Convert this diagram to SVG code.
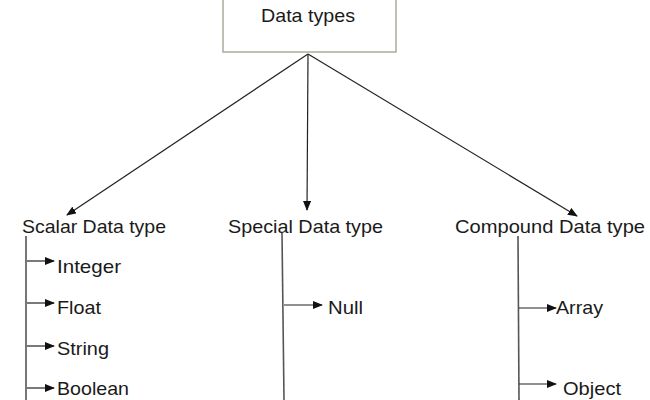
<svg xmlns="http://www.w3.org/2000/svg" width="650" height="400" viewBox="0 0 650 400">
<style>
text{font-family:"Liberation Sans",Arial,sans-serif;font-size:19px;fill:#1a1a1a}
.c{stroke:#222;stroke-width:1.2;fill:none}
.v{stroke:#555;stroke-width:1.6;fill:none}
</style>
<defs>
<marker id="ah" markerWidth="10" markerHeight="8" refX="9" refY="4" orient="auto" markerUnits="userSpaceOnUse">
<path d="M0,0 L10,4 L0,8 Z" fill="#111"/>
</marker>
</defs>
<rect width="650" height="400" fill="#fff"/>
<g id="root">
<rect x="223" y="-10" width="173" height="62" fill="#fff" stroke="#a7ad9a" stroke-width="1.5"/>
<text x="261" y="22" textLength="94" lengthAdjust="spacingAndGlyphs">Data types</text>
</g>
<g id="scalar">
<text x="22" y="233" textLength="144" lengthAdjust="spacingAndGlyphs">Scalar Data type</text>
<text x="57" y="273" textLength="64" lengthAdjust="spacingAndGlyphs">Integer</text>
<text x="57" y="314" textLength="44" lengthAdjust="spacingAndGlyphs">Float</text>
<text x="57" y="355" textLength="52" lengthAdjust="spacingAndGlyphs">String</text>
<text x="57" y="395" textLength="72" lengthAdjust="spacingAndGlyphs">Boolean</text>
</g>
<g id="special">
<text x="228" y="233" textLength="155" lengthAdjust="spacingAndGlyphs">Special Data type</text>
<text x="328" y="314" textLength="35" lengthAdjust="spacingAndGlyphs">Null</text>
</g>
<g id="compound">
<text x="455" y="233" textLength="190" lengthAdjust="spacingAndGlyphs">Compound Data type</text>
<text x="556" y="314" textLength="47" lengthAdjust="spacingAndGlyphs">Array</text>
<text x="563" y="395" textLength="58" lengthAdjust="spacingAndGlyphs">Object</text>
</g>
<g id="connectors">
<line class="c" x1="308" y1="54" x2="67" y2="215" marker-end="url(#ah)"/>
<line class="c" x1="308" y1="54" x2="307" y2="210" marker-end="url(#ah)"/>
<line class="c" x1="308" y1="54" x2="577" y2="216" marker-end="url(#ah)"/>
<line class="v" x1="26" y1="236" x2="26" y2="400"/>
<line class="v" x1="282" y1="233" x2="284" y2="400"/>
<line class="v" x1="518" y1="236" x2="519" y2="400"/>
<line class="c" x1="27" y1="261" x2="54" y2="261" marker-end="url(#ah)"/>
<line class="c" x1="27" y1="303" x2="54" y2="303" marker-end="url(#ah)"/>
<line class="c" x1="27" y1="346" x2="54" y2="346" marker-end="url(#ah)"/>
<line class="c" x1="27" y1="388" x2="54" y2="388" marker-end="url(#ah)"/>
<line class="c" x1="284" y1="305" x2="322" y2="305" marker-end="url(#ah)"/>
<line class="c" x1="519" y1="308" x2="556" y2="308" marker-end="url(#ah)"/>
<line class="c" x1="519" y1="384" x2="556" y2="384" marker-end="url(#ah)"/>
</g>
</svg>
